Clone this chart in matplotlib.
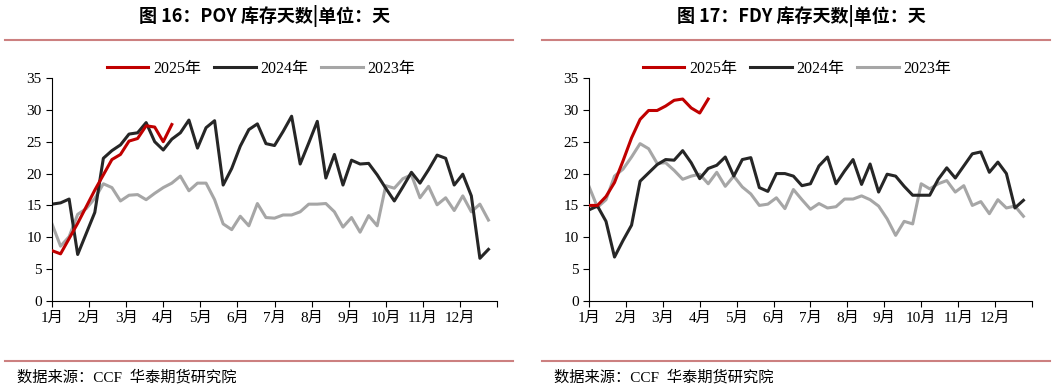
import numpy as np
import matplotlib
matplotlib.use('Agg')
from matplotlib import pyplot as plt

plt.rcParams['font.family'] = ['Liberation Serif', 'Noto Sans CJK SC']

# POY 库存天数 (weekly)
poy_2025 = [7.9, 7.4, 9.8, 12.2, 14.8, 17.4, 19.8, 22.2, 23.0, 25.1, 25.5, 27.5, 27.3, 25.0, 27.7]
poy_2024 = [15.2, 15.4, 16.0, 7.3, 10.6, 13.9, 22.4, 23.6, 24.5, 26.2, 26.4, 28.0, 25.0,
            23.7, 25.4, 26.4, 28.4, 24.0, 27.2, 28.3, 18.2, 20.8, 24.3, 26.9, 27.8, 24.7,
            24.4, 26.6, 29.0, 21.5, 24.8, 28.2, 19.3, 23.0, 18.2, 22.1, 21.5, 21.6, 19.8,
            17.7, 15.7, 17.9, 20.2, 18.5, 20.6, 22.9, 22.4, 18.2, 19.9, 16.5, 6.7, 8.1]
poy_2023 = [12.1, 8.6, 10.1, 13.6, 14.5, 16.1, 18.4, 17.8, 15.7, 16.6, 16.7, 15.9, 16.9,
            17.8, 18.5, 19.6, 17.3, 18.5, 18.5, 15.9, 12.1, 11.2, 13.3, 11.8, 15.3, 13.1,
            13.0, 13.5, 13.5, 14.0, 15.2, 15.2, 15.3, 14.0, 11.6, 13.1, 10.8, 13.4, 11.8,
            18.1, 17.7, 19.2, 19.8, 16.2, 18.0, 15.1, 16.2, 14.2, 16.5, 14.0, 15.2, 12.7]

# FDY 库存天数 (weekly)
fdy_2025 = [15.0, 15.0, 16.4, 18.6, 22.0, 25.6, 28.5, 29.9, 29.9, 30.6, 31.5, 31.7, 30.3, 29.5, 31.7]
fdy_2024 = [14.3, 14.9, 12.5, 6.9, 9.5, 11.9, 18.8, 20.1, 21.4, 22.2, 22.1, 23.6, 21.7,
            19.2, 20.8, 21.3, 22.6, 19.6, 22.2, 22.5, 17.8, 17.2, 20.0, 20.0, 19.6, 18.1,
            18.4, 21.2, 22.6, 18.4, 20.4, 22.2, 18.3, 21.5, 17.1, 19.9, 19.6, 18.0, 16.6,
            16.6, 16.6, 19.1, 20.9, 19.3, 21.2, 23.1, 23.4, 20.2, 21.8, 20.0, 14.6, 15.8]
fdy_2023 = [18.0, 14.7, 15.9, 19.6, 20.7, 22.6, 24.7, 23.9, 21.6, 21.7, 20.5, 19.1, 19.6,
            19.9, 18.4, 20.2, 18.0, 19.6, 17.9, 16.8, 15.0, 15.2, 16.2, 14.5, 17.5, 15.9,
            14.4, 15.3, 14.6, 14.8, 16.0, 16.0, 16.5, 15.9, 14.9, 12.9, 10.3, 12.5, 12.1,
            18.4, 17.6, 18.4, 18.9, 17.1, 18.1, 15.0, 15.6, 13.7, 15.9, 14.6, 14.9, 13.3]

months = ['1月', '2月', '3月', '4月', '5月', '6月', '7月', '8月', '9月', '10月', '11月', '12月', '']
titles = ['图 16：POY 库存天数|单位：天', '图 17：FDY 库存天数|单位：天']

fig = plt.figure(figsize=(10.57, 3.91), dpi=100)

panels = [(0.0492, 0.4210, poy_2025, poy_2024, poy_2023),
          (0.5572, 0.4191, fdy_2025, fdy_2024, fdy_2023)]

for i, (left, width, s25, s24, s23) in enumerate(panels):
    ax = fig.add_axes([left, 0.2302, width, 0.5703])
    ax.plot(np.arange(len(s25)), s25, color='#c00000', lw=2.2, label='2025年', zorder=3)
    ax.plot(np.arange(len(s24)), s24, color='#262626', lw=2.2, label='2024年', zorder=2)
    ax.plot(np.arange(len(s23)), s23, color='#a6a6a6', lw=2.2, label='2023年', zorder=1)
    ax.set_xlim(0, 52)
    ax.set_ylim(0, 35)
    ax.set_yticks(range(0, 36, 5))
    ax.set_xticks(np.linspace(0, 52, 13))
    ax.set_xticklabels(months)
    ax.spines['top'].set_visible(False)
    ax.spines['right'].set_visible(False)
    ax.tick_params(labelsize=11, length=4, direction='out')
    ax.legend(loc='center', bbox_to_anchor=(0.47, 1.04), ncol=3, frameon=False,
              fontsize=11.5, handlelength=2.6, columnspacing=0.8, handletextpad=0.3)

    x0 = 0.005 + i * 0.508
    fig.text(x0 + 0.245, 0.958, titles[i], ha='center', va='center', fontsize=13,
             fontweight='bold', family=['Noto Sans CJK SC', 'DejaVu Sans'])
    fig.add_artist(plt.Line2D([x0, x0 + 0.48], [0.897, 0.897], color='#cc8080', lw=1.5))
    fig.add_artist(plt.Line2D([x0, x0 + 0.48], [0.077, 0.077], color='#cc8080', lw=1.5))
    fig.text(x0 + 0.011, 0.036, '数据来源：CCF  华泰期货研究院', ha='left', va='center',
             fontsize=11)

fig.savefig('out.png', dpi=100)
